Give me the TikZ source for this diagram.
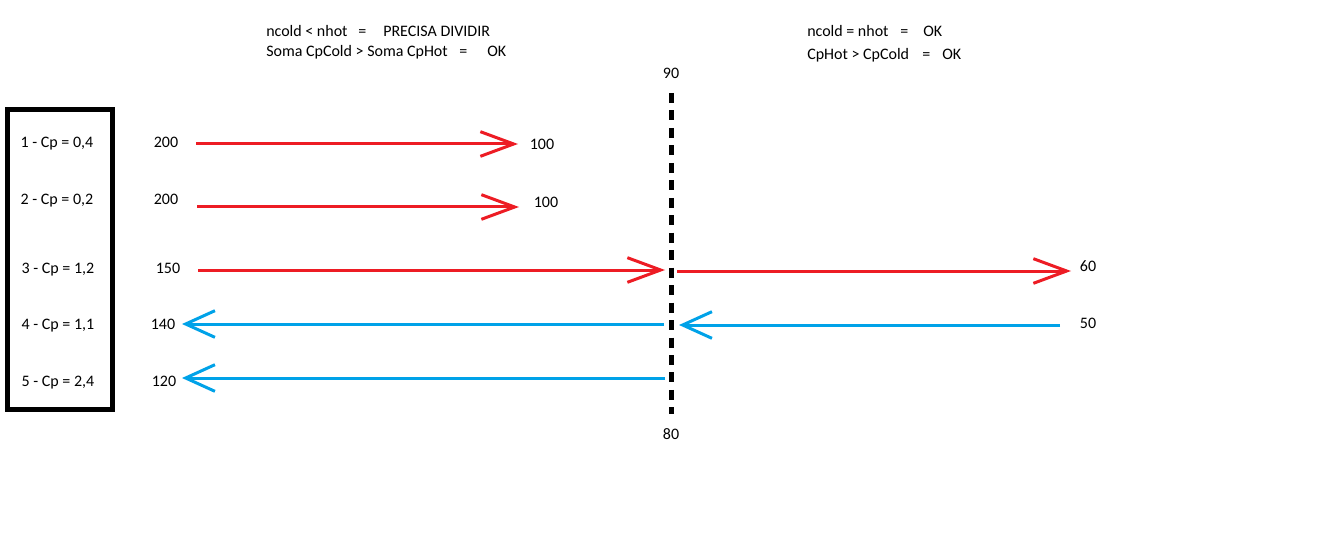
\documentclass[tikz,border=0pt]{standalone}
\usepackage{fontspec}
\setmainfont{Carlito}
\usetikzlibrary{arrows.meta}
\definecolor{hotred}{RGB}{237,28,36}
\definecolor{coldblue}{RGB}{0,162,232}
\tikzset{
  lbl/.style={inner sep=0pt, font=\fontsize{12pt}{14pt}\selectfont, text height=1.45ex, text depth=0.3ex, yshift=-1.3pt},
  tl/.style={lbl, anchor=west},
  hot/.style={draw=hotred, line width=2.25pt, -{Straight Barb[length=25pt,width=18.5pt,line width=2.25pt]}},
  cold/.style={draw=coldblue, line width=2.25pt, -{Straight Barb[length=22pt,width=20pt,line width=2.25pt]}},
  pinch/.style={draw=black, line width=3.75pt, dash pattern=on 7.5pt off 5.6pt},
  frame/.style={draw=black, line width=3.75pt}
}
\begin{document}
\begin{tikzpicture}[x=0.75pt,y=-0.75pt]
\useasboundingbox (0,0) rectangle (1342,556);
% header texts
\node[tl] (h1a) at (266,31) {ncold < nhot};
\node[tl] (h1b) at (358,31) {=};
\node[tl] (h1c) at (383,31) {PRECISA DIVIDIR};
\node[tl] (h2a) at (266,51) {Soma CpCold > Soma CpHot};
\node[tl] (h2b) at (459,51) {=};
\node[tl] (h2c) at (487,51) {OK};
\node[tl] (r1a) at (807,31) {ncold = nhot};
\node[tl] (r1b) at (900,31) {=};
\node[tl] (r1c) at (923,31) {OK};
\node[tl] (r2a) at (807,54) {CpHot > CpCold};
\node[tl] (r2b) at (922,54) {=};
\node[tl] (r2c) at (942,54) {OK};
% box with streams
\draw[frame] (7.5,109.5) rectangle (112.5,409.5);
\node[lbl] (s1) at (57,142) {1 - Cp = 0,4};
\node[lbl] (s2) at (57,199) {2 - Cp = 0,2};
\node[lbl] (s3) at (58,268) {3 - Cp = 1,2};
\node[lbl] (s4) at (58,324) {4 - Cp = 1,1};
\node[lbl] (s5) at (58,381) {5 - Cp = 2,4};
% pinch line
\node[lbl] (t90) at (671,73) {90};
\node[lbl] (t80) at (671,434) {80};
\coordinate (p1) at (671.5,93);
\coordinate (p2) at (671.5,414);
\draw[pinch] (p1) -- (p2);
% temperature labels
\node[lbl] (i1) at (166,142) {200};
\node[lbl] (o1) at (542,144) {100};
\node[lbl] (i2) at (166,199) {200};
\node[lbl] (o2) at (546,202) {100};
\node[lbl] (i3) at (168,268) {150};
\node[lbl] (o3) at (1088,266) {60};
\node[lbl] (o4) at (163,324) {140};
\node[lbl] (i4) at (1088,323) {50};
\node[lbl] (o5) at (164,381) {120};
% arrow end points
\coordinate (a1s) at (196,144);
\coordinate (a1e) at (518,144);
\coordinate (a2s) at (197,207);
\coordinate (a2e) at (519,207);
\coordinate (a3s) at (198,270);
\coordinate (a3m) at (665,270);
\coordinate (a3n) at (677,271);
\coordinate (a3e) at (1071,271);
\coordinate (b4s) at (1060,325);
\coordinate (b4m) at (679,325);
\coordinate (b4n) at (664,324);
\coordinate (b4e) at (182,324);
\coordinate (b5s) at (665,378);
\coordinate (b5e) at (182,378);
% arrows
\draw[hot] (a1s) -- (a1e);
\draw[hot] (a2s) -- (a2e);
\draw[hot] (a3s) -- (a3m);
\draw[hot] (a3n) -- (a3e);
\draw[cold] (b4s) -- (b4m);
\draw[cold] (b4n) -- (b4e);
\draw[cold] (b5s) -- (b5e);
\end{tikzpicture}
\end{document}
